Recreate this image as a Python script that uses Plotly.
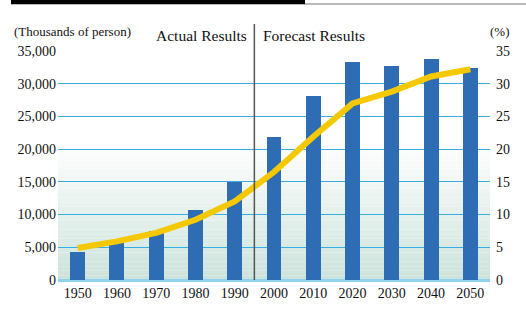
import plotly.graph_objects as go

years = [1950, 1960, 1970, 1980, 1990, 2000, 2010, 2020, 2030, 2040, 2050]
population = [4300, 5600, 7500, 10700, 15000, 21900, 28100, 33300, 32700, 33800, 32400]
share_pct = [4.9, 5.9, 7.2, 9.2, 12.0, 16.5, 21.9, 27.0, 28.8, 31.1, 32.2]
left_ticks = [0, 5000, 10000, 15000, 20000, 25000, 30000, 35000]
left_labels = ["0", "5,000", "10,000", "15,000", "20,000", "25,000", "30,000", "35,000"]
right_ticks = [0, 5, 10, 15, 20, 25, 30, 35]

FONT = "Liberation Serif"
W, H = 526, 320
ML, MR, MT, MB = 58, 36, 51, 40
plot_h = H - MT - MB

fig = go.Figure()
fig.add_trace(go.Bar(x=years, y=population, marker_color="#2e6db4", width=3.8,
                     marker_line_width=0, yaxis="y", showlegend=False))
fig.add_trace(go.Scatter(x=years, y=share_pct, yaxis="y2", mode="lines",
                         line=dict(color="#f5c800", width=6), showlegend=False))

shapes = []
# gradient background bands
n = 30
top_val = 21000
c0 = (204, 227, 219)
c1 = (255, 255, 255)
for i in range(n):
    f = i / (n - 1)
    col = tuple(int(round(c0[k] + (c1[k] - c0[k]) * f)) for k in range(3))
    shapes.append(dict(type="rect", xref="x", yref="y", x0=1945, x1=2055,
                       y0=top_val * i / n, y1=top_val * (i + 1) / n,
                       fillcolor="rgb(%d,%d,%d)" % col, line_width=0, layer="below"))
# separator
shapes.append(dict(type="line", xref="x", yref="paper", x0=1995, x1=1995,
                   y0=0, y1=(plot_h + MT - 24) / plot_h,
                   line=dict(color="#555555", width=1.5)))
# top rule
shapes.append(dict(type="line", xref="paper", yref="paper",
                   x0=(11 - ML) / (W - ML - MR), x1=(W - ML) / (W - ML - MR),
                   y0=(H - MB - 4) / plot_h, y1=(H - MB - 4) / plot_h,
                   line=dict(color="#777777", width=1.2)))
shapes.append(dict(type="rect", xref="paper", yref="paper",
                   x0=(11 - ML) / (W - ML - MR), x1=(305 - ML) / (W - ML - MR),
                   y0=(H - MB - 4) / plot_h, y1=(H - MB + 1) / plot_h,
                   fillcolor="#000000", line_width=0))

def px_x(px):
    return (px - ML) / (W - ML - MR)

def px_y(py):
    return (H - MB - py) / plot_h

annotations = [
    dict(text="(Thousands of person)", x=px_x(12), y=px_y(31), xref="paper", yref="paper",
         xanchor="left", yanchor="middle", showarrow=False, font=dict(family=FONT, size=13, color="#111")),
    dict(text="Actual Results", x=px_x(249), y=px_y(36), xref="paper", yref="paper",
         xanchor="right", yanchor="middle", showarrow=False, font=dict(family=FONT, size=15.5, color="#111")),
    dict(text="Forecast Results", x=px_x(261), y=px_y(36), xref="paper", yref="paper",
         xanchor="left", yanchor="middle", showarrow=False, font=dict(family=FONT, size=15.5, color="#111")),
    dict(text="(%)", x=px_x(512), y=px_y(31), xref="paper", yref="paper",
         xanchor="right", yanchor="middle", showarrow=False, font=dict(family=FONT, size=13, color="#111")),
]

fig.update_layout(
    width=W, height=H, margin=dict(l=ML, r=MR, t=MT, b=MB),
    paper_bgcolor="white", plot_bgcolor="rgba(0,0,0,0)",
    font=dict(family=FONT, size=14, color="#111"),
    xaxis=dict(range=[1945, 2055], tickvals=years, ticktext=[str(y) for y in years],
               showgrid=False, zeroline=False, showline=False, ticks="",
               ticklabelstandoff=3, tickfont=dict(family=FONT, size=14)),
    yaxis=dict(range=[0, 35000], tickvals=left_ticks, ticktext=left_labels,
               showgrid=True, gridcolor="#38ade3", gridwidth=1.3,
               zeroline=True, zerolinecolor="#8fd3f0", zerolinewidth=3,
               showline=False, ticks="", ticklabelstandoff=1,
               tickfont=dict(family=FONT, size=14)),
    yaxis2=dict(range=[0, 35], tickvals=right_ticks, overlaying="y", side="right",
                showgrid=False, zeroline=False, showline=False, ticks="",
                ticklabelstandoff=5, tickfont=dict(family=FONT, size=14)),
    shapes=shapes, annotations=annotations, bargap=0,
)
fig.write_html("out.html")
